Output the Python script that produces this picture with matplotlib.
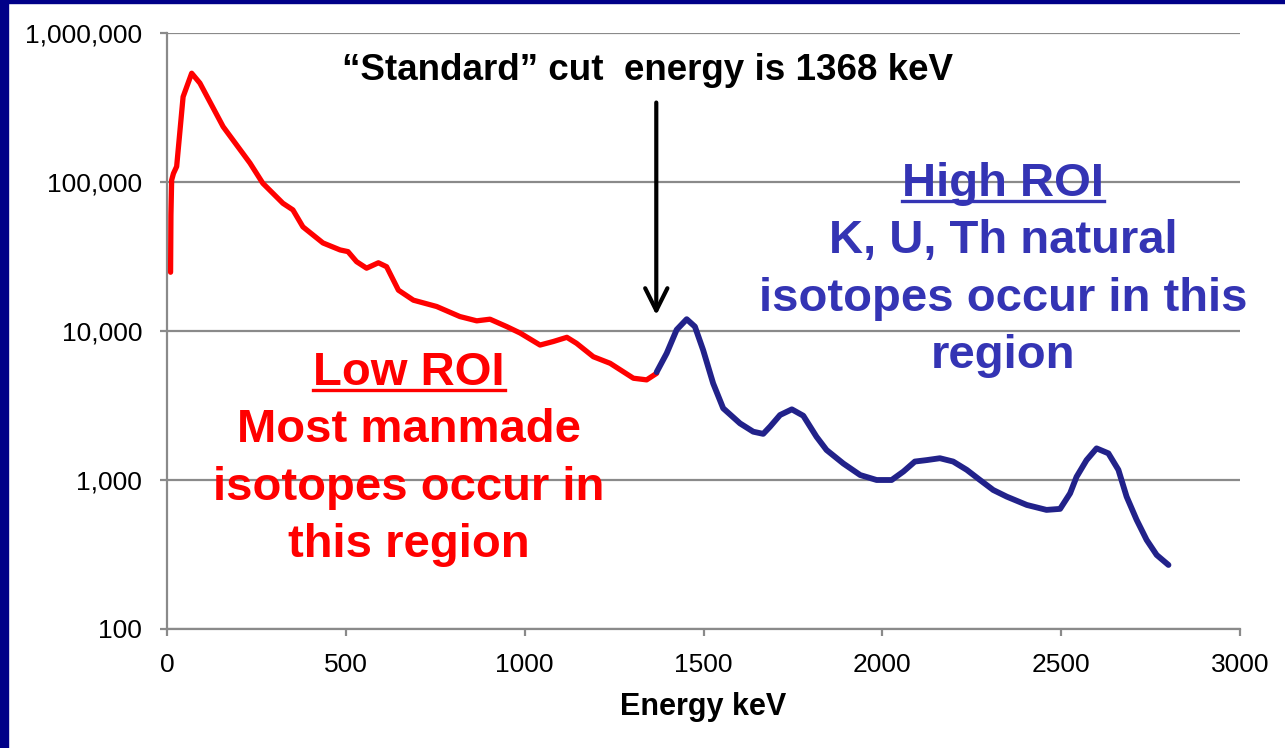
import matplotlib
matplotlib.use("Agg")
import matplotlib.pyplot as plt
from matplotlib.ticker import FuncFormatter, FixedLocator, NullLocator
from matplotlib.patches import Rectangle
from matplotlib.lines import Line2D

plt.rcParams['font.family'] = ['Liberation Sans', 'DejaVu Sans']

# spectrum below the cut (low ROI)
low_kev = [10, 11, 13, 18, 27, 45, 69, 92, 157, 232, 268, 324, 352, 380, 436,
           484, 506, 530, 558, 591, 614, 647, 689, 754, 819, 866, 903, 950,
           987, 1043, 1080, 1118, 1145, 1192, 1239, 1304, 1341, 1369]
low_counts = [24800, 60000, 103000, 114000, 127000, 373000, 537000, 461000,
              235000, 134000, 98000, 72000, 65000, 50000, 39000, 35000, 34100,
              29200, 26400, 28700, 27000, 18800, 16100, 14600, 12500, 11700,
              12000, 10700, 9700, 8050, 8500, 9070, 8270, 6720, 6070, 4820,
              4700, 5200]

# spectrum above the cut (high ROI)
high_kev = [1369, 1397, 1425, 1453, 1476, 1499, 1527, 1555, 1602, 1639, 1667,
            1686, 1714, 1747, 1779, 1816, 1844, 1891, 1938, 1984, 2026, 2059,
            2091, 2124, 2161, 2198, 2236, 2273, 2310, 2348, 2404, 2459, 2497,
            2525, 2543, 2571, 2599, 2632, 2660, 2683, 2711, 2739, 2767, 2800]
high_counts = [5300, 7080, 10200, 12000, 10700, 7450, 4450, 3030, 2400, 2110,
               2040, 2280, 2730, 2980, 2700, 1950, 1590, 1290, 1080, 1000, 1000,
               1140, 1330, 1360, 1400, 1330, 1170, 1000, 857, 773, 680, 630,
               640, 814, 1050, 1360, 1630, 1510, 1170, 773, 540, 396, 314, 269]

CUT_KEV = 1368
y_ticks = [100, 1000, 10000, 100000, 1000000]
x_ticks = [0, 500, 1000, 1500, 2000, 2500, 3000]

W, H = 1285, 748
fig = plt.figure(figsize=(W / 100, H / 100), dpi=100)
fig.patch.set_facecolor('white')

# slide frame
fig.patches.append(Rectangle((0, 0), 8 / W, 1, transform=fig.transFigure,
                             color='#000088', zorder=0))
fig.patches.append(Rectangle((0, 1 - 3 / H), 1, 3 / H, transform=fig.transFigure,
                             color='#000088', zorder=0))

ax = fig.add_axes([167 / W, 1 - 629 / H, (1240 - 167) / W, (629 - 33) / H])
ax.set_yscale('log')
ax.set_xlim(0, 3000)
ax.set_ylim(100, 1000000)

grid_c = '#8a8a8a'
ax.yaxis.set_major_locator(FixedLocator(y_ticks))
ax.yaxis.set_minor_locator(NullLocator())
ax.xaxis.set_major_locator(FixedLocator(x_ticks))
ax.yaxis.set_major_formatter(FuncFormatter(lambda v, p: f'{v:,.0f}'))
ax.grid(axis='y', color=grid_c, lw=1.6)
ax.set_axisbelow(True)
for s in ['top', 'right']:
    ax.spines[s].set_visible(False)
for s in ['left', 'bottom']:
    ax.spines[s].set_color(grid_c)
    ax.spines[s].set_linewidth(1.6)
ax.tick_params(axis='both', length=5, width=1.6, color=grid_c, labelsize=19)
ax.tick_params(axis='y', pad=13)
ax.tick_params(axis='x', pad=12)

ax.plot(low_kev, low_counts, color='#ff0000', lw=3.8,
        solid_joinstyle='round', solid_capstyle='round', zorder=3)
ax.plot(high_kev, high_counts, color='#22228a', lw=4.2,
        solid_joinstyle='round', solid_capstyle='round', zorder=3)

ax.set_xlabel('Energy keV', fontsize=22, fontweight='bold', labelpad=11)

# cut-energy arrow
ax.annotate('', xy=(CUT_KEV, 0.522), xytext=(CUT_KEV, 0.888),
            xycoords=('data', 'axes fraction'),
            textcoords=('data', 'axes fraction'),
            arrowprops=dict(arrowstyle='->, head_width=0.4, head_length=0.8',
                            mutation_scale=20, color='black', lw=3))
fig.text(647 / W, 1 - 80 / H, '\u201cStandard\u201d cut  energy is 1368 keV',
         ha='center', va='baseline', fontsize=26.5, fontweight='bold')

blue_txt = '#3434b4'
high_lines = ['High ROI', 'K, U, Th natural', 'isotopes occur in this', 'region']
high_base = [196, 253, 311, 368]
low_lines = ['Low ROI', 'Most manmade', 'isotopes occur in', 'this region']
low_base = [385, 442, 500, 557]

heads = []
for txt, b in zip(high_lines, high_base):
    t = fig.text(1003 / W, 1 - b / H, txt, ha='center', va='baseline',
                 fontsize=34, fontweight='bold', color=blue_txt)
    if txt == 'High ROI':
        heads.append(t)
for txt, b in zip(low_lines, low_base):
    t = fig.text(409 / W, 1 - b / H, txt, ha='center', va='baseline',
                 fontsize=34, fontweight='bold', color='#ff0000')
    if txt == 'Low ROI':
        heads.append(t)

# underline the two region headings
fig.canvas.draw()
r = fig.canvas.get_renderer()
for t, b in zip(heads, [196, 385]):
    bb = t.get_window_extent(renderer=r)
    yu = 1 - (b + 5) / H
    fig.add_artist(Line2D([bb.x0 / W, bb.x1 / W], [yu, yu], transform=fig.transFigure,
                          color=t.get_color(), lw=2.4))

fig.savefig('out.png', dpi=100)
